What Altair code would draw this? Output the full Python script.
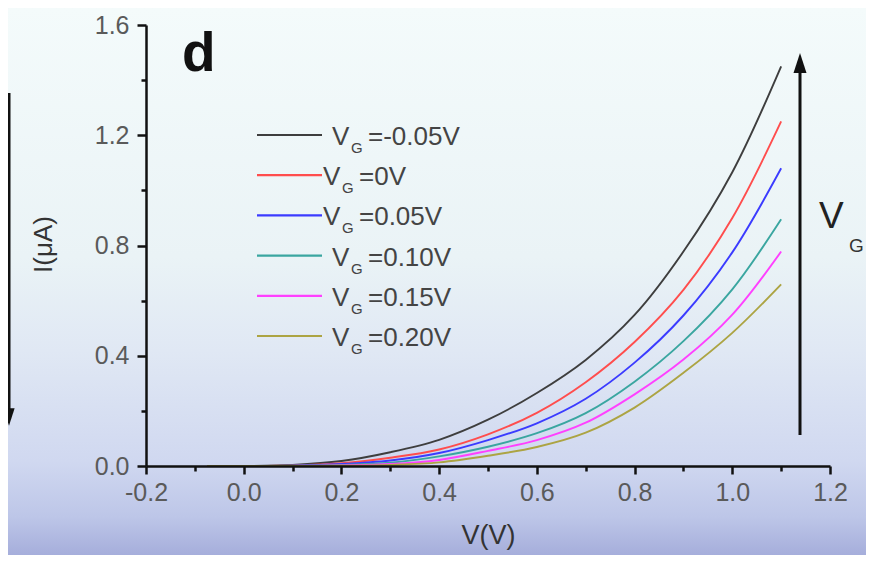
import altair as alt
import pandas as pd

# ---------------- data ----------------
V = [-0.075, 0.0, 0.1, 0.2, 0.3, 0.4, 0.5, 0.6, 0.7, 0.8, 0.9, 1.0, 1.1]
I_vg_m005 = [0.0, 0.0, 0.004, 0.018, 0.050, 0.095, 0.168, 0.265, 0.385, 0.548, 0.778, 1.066, 1.45]
I_vg_000 = [0.0, 0.0, 0.002, 0.010, 0.030, 0.060, 0.115, 0.193, 0.304, 0.450, 0.639, 0.900, 1.25]
I_vg_005 = [0.0, 0.0, 0.001, 0.007, 0.020, 0.047, 0.094, 0.155, 0.244, 0.375, 0.546, 0.775, 1.08]
I_vg_010 = [0.0, 0.0, 0.001, 0.004, 0.012, 0.035, 0.070, 0.119, 0.192, 0.306, 0.453, 0.641, 0.895]
I_vg_015 = [0.0, 0.0, 0.0, 0.002, 0.007, 0.022, 0.055, 0.094, 0.157, 0.260, 0.386, 0.549, 0.778]
I_vg_020 = [0.0, 0.0, 0.0, 0.001, 0.004, 0.013, 0.037, 0.069, 0.121, 0.212, 0.338, 0.483, 0.659]

series_names = ["VG=-0.05V", "VG=0V", "VG=0.05V", "VG=0.10V", "VG=0.15V", "VG=0.20V"]
legend_rest = ["=-0.05V", "=0V", "=0.05V", "=0.10V", "=0.15V", "=0.20V"]
colors = ["#3e3e3e", "#ff4d4d", "#3b3bff", "#3aa6a0", "#ff40ff", "#aca443"]

x_ticks = [round(-0.2 + 0.1 * k, 1) for k in range(15)]
y_ticks = [round(0.2 * k, 1) for k in range(9)]

all_series = [I_vg_m005, I_vg_000, I_vg_005, I_vg_010, I_vg_015, I_vg_020]
rows = []
for name, ys in zip(series_names, all_series):
    for v, i in zip(V, ys):
        rows.append({"V": v, "I": i, "series": name})
df = pd.DataFrame(rows)

# ---------------- layout ----------------
W, H = 684, 441
PAD_L, PAD_T = 138, 17
FONT = "Liberation Sans"
one = pd.DataFrame({"a": [0]})

bg = alt.Chart(one).mark_rect(
    fill={
        "gradient": "linear", "x1": 0, "y1": 0, "x2": 0, "y2": 1,
        "stops": [
            {"offset": 0.0, "color": "#f4fbfb"},
            {"offset": 0.45, "color": "#eaf3f6"},
            {"offset": 0.62, "color": "#e0e8f4"},
            {"offset": 0.82, "color": "#d0d8f0"},
            {"offset": 0.92, "color": "#bdc6e8"},
            {"offset": 1.0, "color": "#a2aad9"},
        ],
    }
).encode(
    x=alt.value(-PAD_L), x2=alt.value(W + 40),
    y=alt.value(-PAD_T), y2=alt.value(H + 95),
)

x_major = "abs(round(datum.value*10)) % 2 == 0"
y_major = "abs(round(datum.value*10)) % 4 == 0"
fmt = "(datum.value < 0 ? '-' : '') + format(abs(datum.value), '.1f')"

lines = alt.Chart(df).mark_line(strokeWidth=1.9, interpolate="catmull-rom").encode(
    x=alt.X(
        "V:Q",
        scale=alt.Scale(domain=[-0.2, 1.2], nice=False, zero=False),
        axis=alt.Axis(
            values=x_ticks,
            labelExpr=f"{x_major} ? {fmt} : ''",
            tickSize={"condition": {"test": x_major, "value": 8}, "value": 5},
            title="V(V)", titleY=77, titleBaseline="alphabetic",
            titleFontSize=27, titleFont=FONT, titleFontWeight="normal", titleColor="#333333",
            labelFontSize=25, labelFont=FONT, labelColor="#5a5a5a", labelPadding=6,
            labelFlush=False, labelOverlap=False,
            domainColor="#111111", domainWidth=2.5, tickColor="#111111", tickWidth=2.5,
            grid=False, zindex=2,
        ),
    ),
    y=alt.Y(
        "I:Q",
        scale=alt.Scale(domain=[0, 1.6], nice=False),
        axis=alt.Axis(
            values=y_ticks,
            labelExpr=f"{y_major} ? {fmt} : ''",
            tickSize={"condition": {"test": y_major, "value": 9}, "value": 5},
            title="I(μA)", titleAngle=270, titleX=-95, titleY=219,
            titleAlign="center", titleBaseline="alphabetic",
            titleFontSize=26, titleFont=FONT, titleFontWeight="normal", titleColor="#333333",
            labelFontSize=25, labelFont=FONT, labelColor="#5a5a5a", labelPadding=8,
            labelOverlap=False,
            domainColor="#111111", domainWidth=2.5, tickColor="#111111", tickWidth=2.5,
            grid=False, zindex=2,
        ),
    ),
    color=alt.Color("series:N", scale=alt.Scale(domain=series_names, range=colors), legend=None),
)

layers = [bg, lines]

# ---------------- manual legend (V with subscript G) ----------------
leg_y0, leg_dy = 110, 40.2
label_x = [186, 177, 177, 186, 186, 186]
for k, (rest, col) in enumerate(zip(legend_rest, colors)):
    yc = leg_y0 + k * leg_dy
    layers.append(
        alt.Chart(one).mark_rule(strokeWidth=2.2, color=col).encode(
            x=alt.value(111), x2=alt.value(176), y=alt.value(yc)
        )
    )
    lx = label_x[k]
    layers.append(
        alt.Chart(one).mark_text(font=FONT, fontSize=26, color="#444444", align="left",
                                 baseline="alphabetic").encode(
            x=alt.value(lx), y=alt.value(yc + 10), text=alt.value("V"))
    )
    layers.append(
        alt.Chart(one).mark_text(font=FONT, fontSize=15, color="#444444", align="left",
                                 baseline="alphabetic").encode(
            x=alt.value(lx + 19), y=alt.value(yc + 18), text=alt.value("G"))
    )
    layers.append(
        alt.Chart(one).mark_text(font=FONT, fontSize=26, color="#444444", align="left",
                                 baseline="alphabetic").encode(
            x=alt.value(lx + 36), y=alt.value(yc + 10), text=alt.value(rest))
    )

# panel letter
layers.append(
    alt.Chart(one).mark_text(font=FONT, fontSize=55, fontWeight="bold", color="#111111",
                             align="left", baseline="alphabetic").encode(
        x=alt.value(36), y=alt.value(46), text=alt.value("d"))
)

# right arrow (VG increasing upward)
layers.append(
    alt.Chart(one).mark_rule(strokeWidth=3, color="#111111").encode(
        x=alt.value(654), y=alt.value(36), y2=alt.value(410))
)
layers.append(
    alt.Chart(one).mark_point(shape="M0,-1 L0.65,1 L-0.65,1 Z", filled=True, size=400,
                              color="#111111", opacity=1).encode(
        x=alt.value(654), y=alt.value(38))
)
layers.append(
    alt.Chart(one).mark_text(font=FONT, fontSize=37, color="#222222", align="left",
                             baseline="alphabetic").encode(
        x=alt.value(673), y=alt.value(203), text=alt.value("V"))
)
layers.append(
    alt.Chart(one).mark_text(font=FONT, fontSize=19, color="#333333", align="left",
                             baseline="alphabetic").encode(
        x=alt.value(703), y=alt.value(227), text=alt.value("G"))
)

# left arrow (partly cut off at the edge)
layers.append(
    alt.Chart(one).mark_rule(strokeWidth=3, color="#111111").encode(
        x=alt.value(-137), y=alt.value(68), y2=alt.value(392))
)
layers.append(
    alt.Chart(one).mark_point(shape="M0,1 L0.65,-1 L-0.65,-1 Z", filled=True, size=300,
                              color="#111111", opacity=1).encode(
        x=alt.value(-137), y=alt.value(392))
)

chart = alt.layer(*layers).properties(
    width=W, height=H,
    padding={"left": PAD_L, "top": PAD_T, "right": 36, "bottom": 89},
    autosize=alt.AutoSizeParams(type="none"),
).configure_view(stroke=None).configure(background="#f4fbfb")

chart.save("out.html", embed_options={"renderer": "svg", "actions": False})
